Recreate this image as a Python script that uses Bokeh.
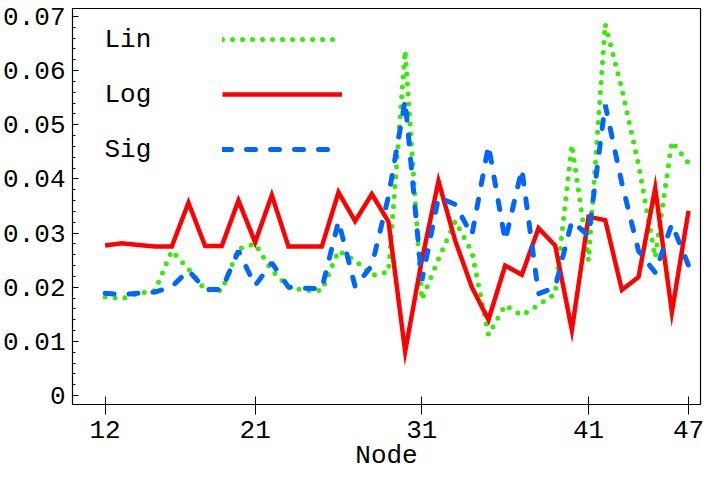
from bokeh.plotting import figure
from bokeh.models import Range1d, FixedTicker, Legend, LegendItem, Label
from bokeh.embed import file_html
from bokeh.resources import INLINE

nodes = list(range(12, 48))

lin = [0.0182, 0.0179, 0.0188, 0.0194, 0.0267, 0.0234, 0.0195, 0.0194, 0.0271, 0.0280,
       0.0231, 0.0200, 0.0194, 0.0194, 0.0267, 0.0249, 0.0222, 0.0228, 0.0637, 0.0177,
       0.0252, 0.0322, 0.0265, 0.0112, 0.0167, 0.0148, 0.0167, 0.0188, 0.0463, 0.0249,
       0.0686, 0.0566, 0.0426, 0.0255, 0.0469, 0.0429]

log = [0.0277, 0.0281, 0.0278, 0.0275, 0.0275, 0.0356, 0.0276, 0.0276, 0.0360, 0.0283,
       0.0370, 0.0275, 0.0275, 0.0275, 0.0375, 0.0322, 0.0372, 0.0321, 0.0081, 0.0250,
       0.0396, 0.0286, 0.0200, 0.0140, 0.0240, 0.0223, 0.0309, 0.0277, 0.0121, 0.0330,
       0.0324, 0.0195, 0.0219, 0.0383, 0.0154, 0.0341]

sig = [0.0189, 0.0186, 0.0189, 0.0191, 0.0201, 0.0231, 0.0196, 0.0196, 0.0267, 0.0203,
       0.0245, 0.0200, 0.0198, 0.0197, 0.0322, 0.0201, 0.0240, 0.0368, 0.0545, 0.0212,
       0.0366, 0.0353, 0.0296, 0.0462, 0.0286, 0.0418, 0.0188, 0.0200, 0.0322, 0.0295,
       0.0537, 0.0392, 0.0267, 0.0227, 0.0317, 0.0240]

x_ticks = [12, 21, 31, 41, 47]
y_ticks = [0, 0.01, 0.02, 0.03, 0.04, 0.05, 0.06, 0.07]
series_names = ["Lin", "Log", "Sig"]
x_label = "Node"

FONT = "Liberation Mono"
FS = "26px"

p = figure(width=704, height=473, output_backend="svg", toolbar_location=None,
           x_range=Range1d(10.044, 47.717), y_range=Range1d(-0.00166, 0.07147),
           min_border_left=72, min_border_right=4, min_border_top=8, min_border_bottom=68,
           background_fill_color="white", border_fill_color="white")
p.xgrid.visible = False
p.ygrid.visible = False
p.outline_line_color = "black"
p.outline_line_width = 1.2

r_lin = p.line(nodes, lin, line_color="#33ee00", line_width=5, line_dash="0 10", line_cap="round")
r_log = p.line(nodes, log, line_color="#ff0000", line_width=4.5, line_join="miter")
r_sig = p.line(nodes, sig, line_color="#0066ff", line_width=5, line_dash="9 15", line_cap="round")

xa = p.xaxis[0]
xa.ticker = FixedTicker(ticks=x_ticks)
xa.major_tick_in = 8
xa.major_tick_out = 10
xa.minor_tick_line_color = None
xa.major_label_text_font = FONT
xa.major_label_text_font_size = FS
xa.major_label_text_color = "black"
xa.major_label_standoff = 6
xa.axis_label = x_label
xa.axis_label_text_font = FONT
xa.axis_label_text_font_size = FS
xa.axis_label_text_font_style = "normal"
xa.axis_label_text_color = "black"
xa.axis_label_standoff = 0
xa.axis_line_color = "black"
xa.major_tick_line_color = "black"

ya = p.yaxis[0]
ya.ticker = FixedTicker(ticks=y_ticks, minor_ticks=[i * 0.002 for i in range(36)])
ya.major_tick_in = 6
ya.major_tick_out = 0
ya.minor_tick_in = 3
ya.minor_tick_out = 0
ya.major_label_text_font = FONT
ya.major_label_text_font_size = FS
ya.major_label_text_color = "black"
ya.major_label_standoff = 7
ya.axis_line_color = "black"
ya.major_tick_line_color = "black"
ya.minor_tick_line_color = "black"

# legend: line samples via Legend, names via Labels on the left
legend = Legend(items=[LegendItem(label=" ", renderers=[r]) for r in (r_lin, r_log, r_sig)],
                location=(150, 245), glyph_width=120, glyph_height=20, label_height=20,
                label_width=1, label_standoff=0, spacing=35, padding=0, margin=0,
                label_text_font_size="8px", border_line_color=None,
                background_fill_alpha=0)
p.add_layout(legend)

for i, name in enumerate(series_names):
    p.add_layout(Label(x=32, y=365 - 55 * i, x_units="screen", y_units="screen",
                       text=name, text_font=FONT, text_font_size=FS,
                       text_baseline="middle", text_align="left", text_color="black"))

open("out.html", "w").write(file_html(p, INLINE))
